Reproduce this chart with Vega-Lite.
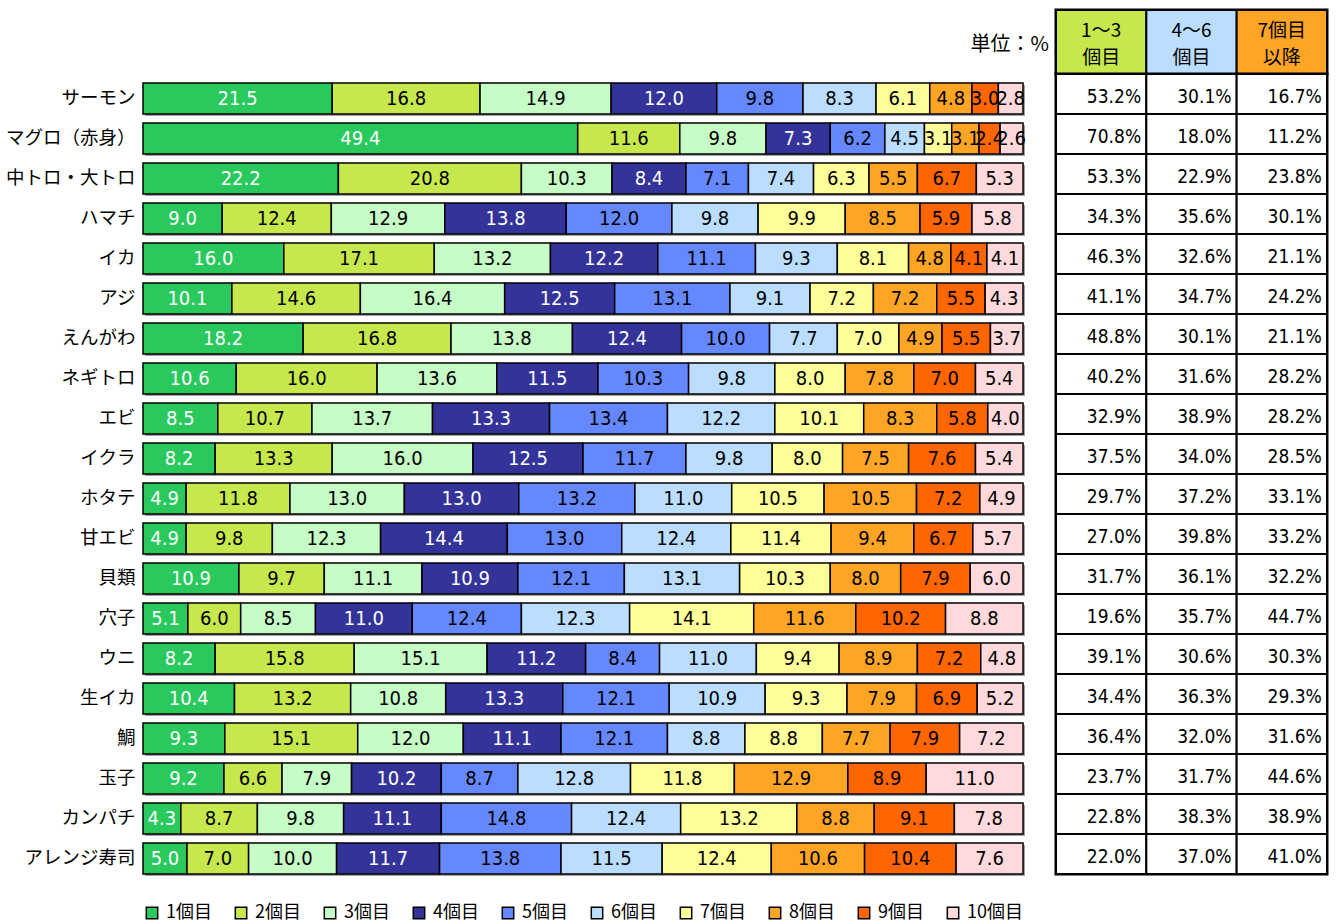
{
"$schema": "https://vega.github.io/schema/vega-lite/v6.json",
"padding": {"left": 5, "top": 7, "right": 5, "bottom": 2},
"background": "white",
"config": {"font": "Noto Sans CJK JP", "view": {"stroke": null}},
"datasets": {
"seg": [
{"item":"サーモン","rank":1,"pct":21.5},{"item":"サーモン","rank":2,"pct":16.8},{"item":"サーモン","rank":3,"pct":14.9},{"item":"サーモン","rank":4,"pct":12.0},{"item":"サーモン","rank":5,"pct":9.8},{"item":"サーモン","rank":6,"pct":8.3},{"item":"サーモン","rank":7,"pct":6.1},{"item":"サーモン","rank":8,"pct":4.8},{"item":"サーモン","rank":9,"pct":3.0},{"item":"サーモン","rank":10,"pct":2.8},
{"item":"マグロ（赤身）","rank":1,"pct":49.4},{"item":"マグロ（赤身）","rank":2,"pct":11.6},{"item":"マグロ（赤身）","rank":3,"pct":9.8},{"item":"マグロ（赤身）","rank":4,"pct":7.3},{"item":"マグロ（赤身）","rank":5,"pct":6.2},{"item":"マグロ（赤身）","rank":6,"pct":4.5},{"item":"マグロ（赤身）","rank":7,"pct":3.1},{"item":"マグロ（赤身）","rank":8,"pct":3.1},{"item":"マグロ（赤身）","rank":9,"pct":2.4},{"item":"マグロ（赤身）","rank":10,"pct":2.6},
{"item":"中トロ・大トロ","rank":1,"pct":22.2},{"item":"中トロ・大トロ","rank":2,"pct":20.8},{"item":"中トロ・大トロ","rank":3,"pct":10.3},{"item":"中トロ・大トロ","rank":4,"pct":8.4},{"item":"中トロ・大トロ","rank":5,"pct":7.1},{"item":"中トロ・大トロ","rank":6,"pct":7.4},{"item":"中トロ・大トロ","rank":7,"pct":6.3},{"item":"中トロ・大トロ","rank":8,"pct":5.5},{"item":"中トロ・大トロ","rank":9,"pct":6.7},{"item":"中トロ・大トロ","rank":10,"pct":5.3},
{"item":"ハマチ","rank":1,"pct":9.0},{"item":"ハマチ","rank":2,"pct":12.4},{"item":"ハマチ","rank":3,"pct":12.9},{"item":"ハマチ","rank":4,"pct":13.8},{"item":"ハマチ","rank":5,"pct":12.0},{"item":"ハマチ","rank":6,"pct":9.8},{"item":"ハマチ","rank":7,"pct":9.9},{"item":"ハマチ","rank":8,"pct":8.5},{"item":"ハマチ","rank":9,"pct":5.9},{"item":"ハマチ","rank":10,"pct":5.8},
{"item":"イカ","rank":1,"pct":16.0},{"item":"イカ","rank":2,"pct":17.1},{"item":"イカ","rank":3,"pct":13.2},{"item":"イカ","rank":4,"pct":12.2},{"item":"イカ","rank":5,"pct":11.1},{"item":"イカ","rank":6,"pct":9.3},{"item":"イカ","rank":7,"pct":8.1},{"item":"イカ","rank":8,"pct":4.8},{"item":"イカ","rank":9,"pct":4.1},{"item":"イカ","rank":10,"pct":4.1},
{"item":"アジ","rank":1,"pct":10.1},{"item":"アジ","rank":2,"pct":14.6},{"item":"アジ","rank":3,"pct":16.4},{"item":"アジ","rank":4,"pct":12.5},{"item":"アジ","rank":5,"pct":13.1},{"item":"アジ","rank":6,"pct":9.1},{"item":"アジ","rank":7,"pct":7.2},{"item":"アジ","rank":8,"pct":7.2},{"item":"アジ","rank":9,"pct":5.5},{"item":"アジ","rank":10,"pct":4.3},
{"item":"えんがわ","rank":1,"pct":18.2},{"item":"えんがわ","rank":2,"pct":16.8},{"item":"えんがわ","rank":3,"pct":13.8},{"item":"えんがわ","rank":4,"pct":12.4},{"item":"えんがわ","rank":5,"pct":10.0},{"item":"えんがわ","rank":6,"pct":7.7},{"item":"えんがわ","rank":7,"pct":7.0},{"item":"えんがわ","rank":8,"pct":4.9},{"item":"えんがわ","rank":9,"pct":5.5},{"item":"えんがわ","rank":10,"pct":3.7},
{"item":"ネギトロ","rank":1,"pct":10.6},{"item":"ネギトロ","rank":2,"pct":16.0},{"item":"ネギトロ","rank":3,"pct":13.6},{"item":"ネギトロ","rank":4,"pct":11.5},{"item":"ネギトロ","rank":5,"pct":10.3},{"item":"ネギトロ","rank":6,"pct":9.8},{"item":"ネギトロ","rank":7,"pct":8.0},{"item":"ネギトロ","rank":8,"pct":7.8},{"item":"ネギトロ","rank":9,"pct":7.0},{"item":"ネギトロ","rank":10,"pct":5.4},
{"item":"エビ","rank":1,"pct":8.5},{"item":"エビ","rank":2,"pct":10.7},{"item":"エビ","rank":3,"pct":13.7},{"item":"エビ","rank":4,"pct":13.3},{"item":"エビ","rank":5,"pct":13.4},{"item":"エビ","rank":6,"pct":12.2},{"item":"エビ","rank":7,"pct":10.1},{"item":"エビ","rank":8,"pct":8.3},{"item":"エビ","rank":9,"pct":5.8},{"item":"エビ","rank":10,"pct":4.0},
{"item":"イクラ","rank":1,"pct":8.2},{"item":"イクラ","rank":2,"pct":13.3},{"item":"イクラ","rank":3,"pct":16.0},{"item":"イクラ","rank":4,"pct":12.5},{"item":"イクラ","rank":5,"pct":11.7},{"item":"イクラ","rank":6,"pct":9.8},{"item":"イクラ","rank":7,"pct":8.0},{"item":"イクラ","rank":8,"pct":7.5},{"item":"イクラ","rank":9,"pct":7.6},{"item":"イクラ","rank":10,"pct":5.4},
{"item":"ホタテ","rank":1,"pct":4.9},{"item":"ホタテ","rank":2,"pct":11.8},{"item":"ホタテ","rank":3,"pct":13.0},{"item":"ホタテ","rank":4,"pct":13.0},{"item":"ホタテ","rank":5,"pct":13.2},{"item":"ホタテ","rank":6,"pct":11.0},{"item":"ホタテ","rank":7,"pct":10.5},{"item":"ホタテ","rank":8,"pct":10.5},{"item":"ホタテ","rank":9,"pct":7.2},{"item":"ホタテ","rank":10,"pct":4.9},
{"item":"甘エビ","rank":1,"pct":4.9},{"item":"甘エビ","rank":2,"pct":9.8},{"item":"甘エビ","rank":3,"pct":12.3},{"item":"甘エビ","rank":4,"pct":14.4},{"item":"甘エビ","rank":5,"pct":13.0},{"item":"甘エビ","rank":6,"pct":12.4},{"item":"甘エビ","rank":7,"pct":11.4},{"item":"甘エビ","rank":8,"pct":9.4},{"item":"甘エビ","rank":9,"pct":6.7},{"item":"甘エビ","rank":10,"pct":5.7},
{"item":"貝類","rank":1,"pct":10.9},{"item":"貝類","rank":2,"pct":9.7},{"item":"貝類","rank":3,"pct":11.1},{"item":"貝類","rank":4,"pct":10.9},{"item":"貝類","rank":5,"pct":12.1},{"item":"貝類","rank":6,"pct":13.1},{"item":"貝類","rank":7,"pct":10.3},{"item":"貝類","rank":8,"pct":8.0},{"item":"貝類","rank":9,"pct":7.9},{"item":"貝類","rank":10,"pct":6.0},
{"item":"穴子","rank":1,"pct":5.1},{"item":"穴子","rank":2,"pct":6.0},{"item":"穴子","rank":3,"pct":8.5},{"item":"穴子","rank":4,"pct":11.0},{"item":"穴子","rank":5,"pct":12.4},{"item":"穴子","rank":6,"pct":12.3},{"item":"穴子","rank":7,"pct":14.1},{"item":"穴子","rank":8,"pct":11.6},{"item":"穴子","rank":9,"pct":10.2},{"item":"穴子","rank":10,"pct":8.8},
{"item":"ウニ","rank":1,"pct":8.2},{"item":"ウニ","rank":2,"pct":15.8},{"item":"ウニ","rank":3,"pct":15.1},{"item":"ウニ","rank":4,"pct":11.2},{"item":"ウニ","rank":5,"pct":8.4},{"item":"ウニ","rank":6,"pct":11.0},{"item":"ウニ","rank":7,"pct":9.4},{"item":"ウニ","rank":8,"pct":8.9},{"item":"ウニ","rank":9,"pct":7.2},{"item":"ウニ","rank":10,"pct":4.8},
{"item":"生イカ","rank":1,"pct":10.4},{"item":"生イカ","rank":2,"pct":13.2},{"item":"生イカ","rank":3,"pct":10.8},{"item":"生イカ","rank":4,"pct":13.3},{"item":"生イカ","rank":5,"pct":12.1},{"item":"生イカ","rank":6,"pct":10.9},{"item":"生イカ","rank":7,"pct":9.3},{"item":"生イカ","rank":8,"pct":7.9},{"item":"生イカ","rank":9,"pct":6.9},{"item":"生イカ","rank":10,"pct":5.2},
{"item":"鯛","rank":1,"pct":9.3},{"item":"鯛","rank":2,"pct":15.1},{"item":"鯛","rank":3,"pct":12.0},{"item":"鯛","rank":4,"pct":11.1},{"item":"鯛","rank":5,"pct":12.1},{"item":"鯛","rank":6,"pct":8.8},{"item":"鯛","rank":7,"pct":8.8},{"item":"鯛","rank":8,"pct":7.7},{"item":"鯛","rank":9,"pct":7.9},{"item":"鯛","rank":10,"pct":7.2},
{"item":"玉子","rank":1,"pct":9.2},{"item":"玉子","rank":2,"pct":6.6},{"item":"玉子","rank":3,"pct":7.9},{"item":"玉子","rank":4,"pct":10.2},{"item":"玉子","rank":5,"pct":8.7},{"item":"玉子","rank":6,"pct":12.8},{"item":"玉子","rank":7,"pct":11.8},{"item":"玉子","rank":8,"pct":12.9},{"item":"玉子","rank":9,"pct":8.9},{"item":"玉子","rank":10,"pct":11.0},
{"item":"カンパチ","rank":1,"pct":4.3},{"item":"カンパチ","rank":2,"pct":8.7},{"item":"カンパチ","rank":3,"pct":9.8},{"item":"カンパチ","rank":4,"pct":11.1},{"item":"カンパチ","rank":5,"pct":14.8},{"item":"カンパチ","rank":6,"pct":12.4},{"item":"カンパチ","rank":7,"pct":13.2},{"item":"カンパチ","rank":8,"pct":8.8},{"item":"カンパチ","rank":9,"pct":9.1},{"item":"カンパチ","rank":10,"pct":7.8},
{"item":"アレンジ寿司","rank":1,"pct":5.0},{"item":"アレンジ寿司","rank":2,"pct":7.0},{"item":"アレンジ寿司","rank":3,"pct":10.0},{"item":"アレンジ寿司","rank":4,"pct":11.7},{"item":"アレンジ寿司","rank":5,"pct":13.8},{"item":"アレンジ寿司","rank":6,"pct":11.5},{"item":"アレンジ寿司","rank":7,"pct":12.4},{"item":"アレンジ寿司","rank":8,"pct":10.6},{"item":"アレンジ寿司","rank":9,"pct":10.4},{"item":"アレンジ寿司","rank":10,"pct":7.6}
],
"share": [
{"item":"サーモン","g13":0.532,"g46":0.301,"g7":0.167},
{"item":"マグロ（赤身）","g13":0.708,"g46":0.180,"g7":0.112},
{"item":"中トロ・大トロ","g13":0.533,"g46":0.229,"g7":0.238},
{"item":"ハマチ","g13":0.343,"g46":0.356,"g7":0.301},
{"item":"イカ","g13":0.463,"g46":0.326,"g7":0.211},
{"item":"アジ","g13":0.411,"g46":0.347,"g7":0.242},
{"item":"えんがわ","g13":0.488,"g46":0.301,"g7":0.211},
{"item":"ネギトロ","g13":0.402,"g46":0.316,"g7":0.282},
{"item":"エビ","g13":0.329,"g46":0.389,"g7":0.282},
{"item":"イクラ","g13":0.375,"g46":0.340,"g7":0.285},
{"item":"ホタテ","g13":0.297,"g46":0.372,"g7":0.331},
{"item":"甘エビ","g13":0.270,"g46":0.398,"g7":0.332},
{"item":"貝類","g13":0.317,"g46":0.361,"g7":0.322},
{"item":"穴子","g13":0.196,"g46":0.357,"g7":0.447},
{"item":"ウニ","g13":0.391,"g46":0.306,"g7":0.303},
{"item":"生イカ","g13":0.344,"g46":0.363,"g7":0.293},
{"item":"鯛","g13":0.364,"g46":0.320,"g7":0.316},
{"item":"玉子","g13":0.237,"g46":0.317,"g7":0.446},
{"item":"カンパチ","g13":0.228,"g46":0.383,"g7":0.389},
{"item":"アレンジ寿司","g13":0.220,"g46":0.370,"g7":0.410}
]
},
"hconcat": [
{
"width": 880,
"height": 868,
"data": {"name": "seg"},
"encoding": {
"y": {"field": "item", "type": "nominal",
"scale": {"domain": ["サーモン","マグロ（赤身）","中トロ・大トロ","ハマチ","イカ","アジ","えんがわ","ネギトロ","エビ","イクラ","ホタテ","甘エビ","貝類","穴子","ウニ","生イカ","鯛","玉子","カンパチ","アレンジ寿司"], "paddingInner": 0.225, "paddingOuter": 0.9625, "align": 0.948},
"axis": {"title": null, "domain": false, "ticks": false, "labelFontSize": 18.5, "labelFont": "Noto Sans CJK JP", "labelColor": "black", "labelPadding": 8, "labelLimit": 300}}
},
"layer": [
{
"mark": {"type": "bar", "color": "#a0a0a0", "xOffset": 2, "x2Offset": 2, "yOffset": 2, "y2Offset": 2},
"encoding": {
"x": {"field": "pct", "type": "quantitative", "stack": "zero", "scale": {"domain": [0, 100], "nice": false}, "axis": null},
"detail": {"field": "rank", "type": "ordinal"},
"order": {"field": "rank", "type": "quantitative"}
}
},
{
"mark": {"type": "bar", "stroke": "black", "strokeWidth": 1.5},
"encoding": {
"x": {"field": "pct", "type": "quantitative", "stack": "zero", "scale": {"domain": [0, 100], "nice": false}, "axis": null},
"color": {"field": "rank", "type": "ordinal",
"scale": {"domain": [1,2,3,4,5,6,7,8,9,10], "range": ["#29C95E","#C6E84D","#C6FCC6","#333399","#6688FF","#BBDDFF","#FFFF99","#FFA526","#FF6600","#FFD9DC"]},
"legend": {"title": null, "orient": "bottom", "direction": "horizontal", "columns": 10, "symbolType": "square", "symbolSize": 130, "symbolStrokeColor": "black", "symbolStrokeWidth": 1.5, "labelFontSize": 18, "labelFont": "Noto Sans CJK JP", "labelColor": "black", "labelExpr": "datum.label + '個目'", "columnPadding": 20, "labelOffset": 5, "offset": 26, "padding": 0}},
"order": {"field": "rank", "type": "quantitative"}
}
},
{
"transform": [
{"stack": "pct", "groupby": ["item"], "sort": [{"field": "rank", "order": "ascending"}], "as": ["s0", "s1"]},
{"fold": ["s0", "s1"], "as": ["edge", "pos"]},
{"aggregate": [{"op": "mean", "field": "pos", "as": "mid"}], "groupby": ["item", "rank", "pct"]}
],
"mark": {"type": "text", "fontSize": 20, "font": "DejaVu Sans Condensed, Noto Sans CJK JP, sans-serif", "baseline": "middle", "dy": 1},
"encoding": {
"x": {"field": "mid", "type": "quantitative"},
"text": {"field": "pct", "type": "quantitative", "format": ".1f"},
"color": {"condition": {"test": "datum.rank == 1 || datum.rank == 4", "value": "white"}, "value": "black"}
}
}
]
},
{
"vconcat": [
{
"width": 271,
"height": 64,
"data": {"values": [{"group": "g13", "label": "1～3\n個目"}, {"group": "g46", "label": "4～6\n個目"}, {"group": "g7", "label": "7個目\n以降"}]},
"title": {"text": "単位：%", "orient": "left", "angle": 0, "align": "left", "baseline": "middle", "anchor": "middle", "offset": 6, "fontSize": 20, "fontWeight": "normal", "font": "Noto Sans CJK JP", "color": "black", "dy": 3},
"view": {"stroke": "black", "strokeWidth": 3},
"encoding": {
"x": {"field": "group", "type": "nominal", "scale": {"domain": ["g13", "g46", "g7"], "paddingInner": 0, "paddingOuter": 0}, "axis": null}
},
"layer": [
{"mark": {"type": "rect", "stroke": "black", "strokeWidth": 2},
"encoding": {"fill": {"field": "group", "type": "nominal", "scale": {"domain": ["g13", "g46", "g7"], "range": ["#C6E84D", "#BBDDFF", "#FFA526"]}, "legend": null}}},
{"mark": {"type": "text", "fontSize": 19, "font": "Noto Sans CJK JP", "lineBreak": "\n", "lineHeight": 27, "baseline": "middle", "dy": -11, "color": "black"},
"encoding": {"text": {"field": "label", "type": "nominal"}}}
]
},
{
"width": 271,
"height": 800,
"data": {"name": "share"},
"transform": [{"fold": ["g13", "g46", "g7"], "as": ["group", "share"]}],
"view": {"stroke": "black", "strokeWidth": 3},
"encoding": {
"x": {"field": "group", "type": "nominal", "scale": {"domain": ["g13", "g46", "g7"], "paddingInner": 0, "paddingOuter": 0}, "axis": null},
"y": {"field": "item", "type": "nominal", "scale": {"domain": ["サーモン","マグロ（赤身）","中トロ・大トロ","ハマチ","イカ","アジ","えんがわ","ネギトロ","エビ","イクラ","ホタテ","甘エビ","貝類","穴子","ウニ","生イカ","鯛","玉子","カンパチ","アレンジ寿司"], "paddingInner": 0, "paddingOuter": 0}, "axis": null}
},
"layer": [
{"mark": {"type": "rect", "fill": "white", "stroke": "black", "strokeWidth": 2}},
{"mark": {"type": "text", "align": "right", "dx": 40, "dy": 3, "fontSize": 19, "font": "DejaVu Sans Condensed, Noto Sans CJK JP, sans-serif", "baseline": "middle", "color": "black"},
"encoding": {"text": {"field": "share", "type": "quantitative", "format": ".1%"}}}
]
}
],
"spacing": 0,
"bounds": "flush"
}
],
"resolve": {"scale": {"color": "independent", "fill": "independent"}},
"spacing": 33,
"bounds": "flush"
}
